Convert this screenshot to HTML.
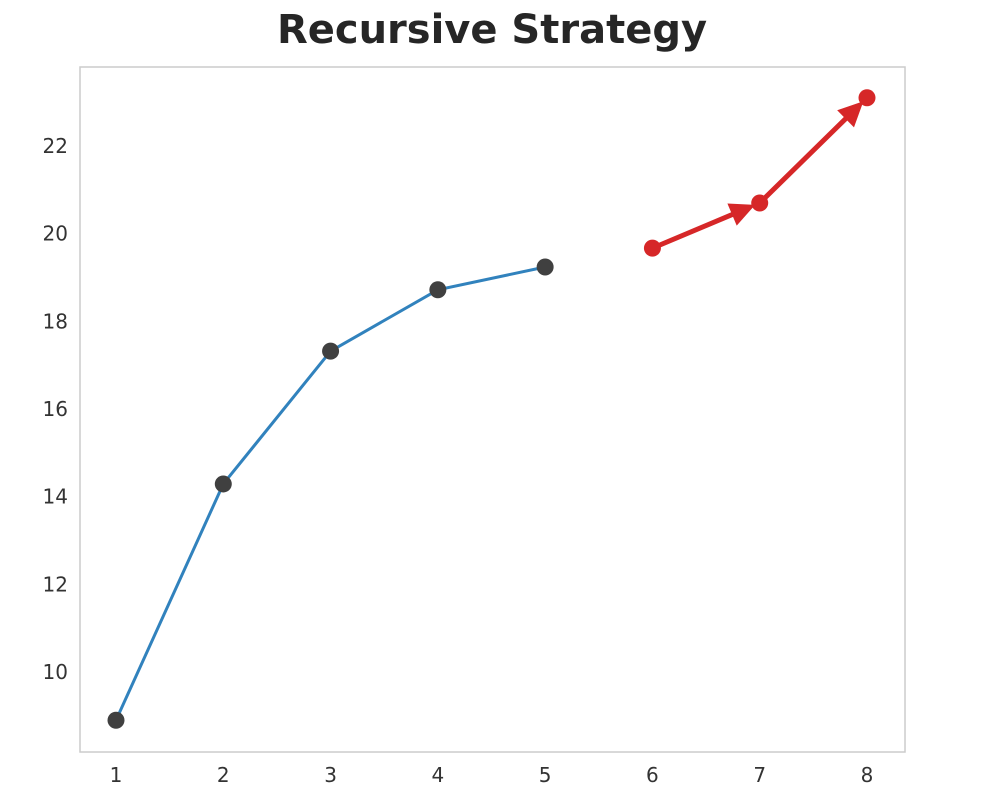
<!DOCTYPE html>
<html><head><meta charset="utf-8"><style>
html,body{margin:0;padding:0;background:#fff;}
svg{display:block;font-family:"DejaVu Sans","Liberation Sans",sans-serif;}
</style></head><body>
<svg id="chart" width="1006" height="806">
<text x="492" y="43" text-anchor="middle" font-size="40" font-weight="bold" fill="#262626">Recursive Strategy</text>
<rect x="80" y="67" width="825" height="685" fill="#fff" stroke="#cccccc" stroke-width="1.5"/>
<g id="xt"></g>
<g id="yt"></g>
<g id="series"></g>
</svg>
<script>
const histX=[1,2,3,4,5];
const histY=[8.9,14.29,17.32,18.72,19.24];
const predX=[6,7,8];
const predY=[19.67,20.7,23.1];
const xTicks=[1,2,3,4,5,6,7,8];
const yTicks=[10,12,14,16,18,20,22];
const NS="http://www.w3.org/2000/svg";
function sx(v){return 116+(v-1)*(867-116)/7;}
function sy(v){return 672-(v-10)*(672-146)/12;}
function mk(t,a,p){const e=document.createElementNS(NS,t);for(const k in a)e.setAttribute(k,a[k]);p.appendChild(e);return e;}
const xt=document.getElementById('xt'),yt=document.getElementById('yt'),sr=document.getElementById('series');
xTicks.forEach(v=>{const t=mk('text',{x:sx(v),y:782,'text-anchor':'middle','font-size':20,fill:'#333'},xt);t.textContent=v;

});
yTicks.forEach(v=>{const t=mk('text',{x:68,y:sy(v)+7,'text-anchor':'end','font-size':20,fill:'#333'},yt);t.textContent=v;

});
const hl=mk('polyline',{points:histX.map((x,i)=>sx(x)+','+sy(histY[i])).join(' '),fill:'none',stroke:'#3182bd','stroke-width':3},sr);


histX.forEach((x,i)=>{const c=mk('circle',{cx:sx(x),cy:sy(histY[i]),r:8.5,fill:'#404040'},sr);

});
for(let i=0;i<predX.length-1;i++){
 const x1=sx(predX[i]),y1=sy(predY[i]),x2=sx(predX[i+1]),y2=sy(predY[i+1]);
 const dx=x2-x1,dy=y2-y1,L=Math.hypot(dx,dy),ux=dx/L,uy=dy/L;
 const tx=x2-ux*5,ty=y2-uy*5;
 const l=mk('line',{x1:x1,y1:y1,x2:tx-ux*12,y2:ty-uy*12,stroke:'#d62728','stroke-width':5},sr);
 
 
 const bx=tx-ux*25,by=ty-uy*25,px=-uy*12,py=ux*12;
 const a=mk('polygon',{points:`${tx},${ty} ${bx+px},${by+py} ${bx-px},${by-py}`,fill:'#d62728'},sr);
 
 
}
predX.forEach((x,i)=>{const c=mk('circle',{cx:sx(x),cy:sy(predY[i]),r:8.5,fill:'#d62728'},sr);

});
</script>
</body></html>
